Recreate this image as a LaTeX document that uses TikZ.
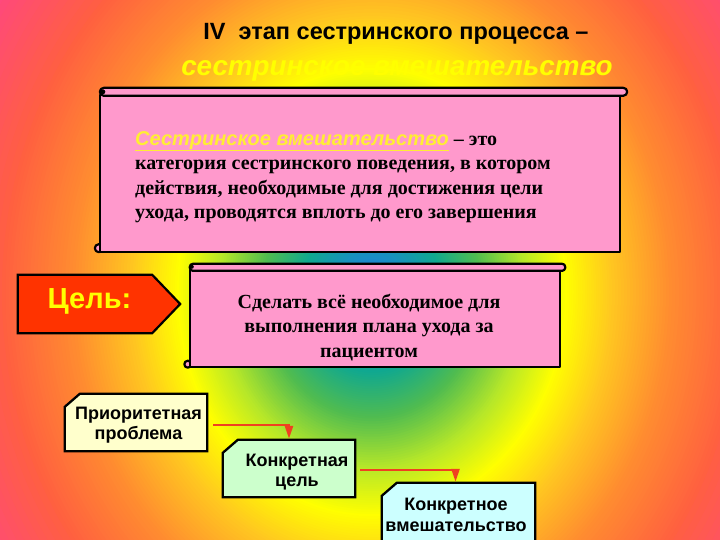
\documentclass[tikz,border=0pt]{standalone}
\usepackage{fontspec}
\setmainfont{Liberation Serif}
\newfontfamily\arialf{Liberation Sans}
\usetikzlibrary{arrows.meta}
\pgfdeclarelayer{bglayer}
\pgfdeclarelayer{shapelayer}
\pgfsetlayers{bglayer,shapelayer,main}
\definecolor{g0}{HTML}{2860E8}
\definecolor{g1}{HTML}{1A8CC8}
\definecolor{g2}{HTML}{10A890}
\definecolor{g3}{HTML}{50BC50}
\definecolor{g4}{HTML}{B8E828}
\definecolor{g5}{HTML}{FFFF00}
\definecolor{g6}{HTML}{FFC820}
\definecolor{g7}{HTML}{FF8C30}
\definecolor{g8}{HTML}{FF6040}
\definecolor{g9}{HTML}{FF3C9C}
\definecolor{pinkbox}{HTML}{FF99CC}
\definecolor{goalred}{HTML}{FF3300}
\definecolor{ylw}{HTML}{FFFF00}
\definecolor{ylwtxt}{HTML}{FFEE33}
\definecolor{boxA}{HTML}{FFFFCC}
\definecolor{boxB}{HTML}{CCFFCC}
\definecolor{boxC}{HTML}{CCFFFF}
\definecolor{arr}{HTML}{F04020}
\tikzset{
  shapeline/.style={draw=black, line width=2.2pt, line join=round},
  scrollbody/.style={shapeline, fill=pinkbox},
  snipbox/.style={draw=black, line width=2.3pt, line join=miter},
  sanstext/.style={font=\arialf\bfseries\fontsize{18}{20.5}\selectfont, align=center, inner sep=0pt},
  serifbold/.style={font=\bfseries\fontsize{20}{24.5}\selectfont, inner sep=0pt},
  conn/.style={draw=arr, line width=2.4pt, -{Triangle[width=8pt,length=13pt]}, shorten >=1pt}
}
\begin{document}
\begin{tikzpicture}[x=1pt,y=-1pt]
\useasboundingbox (0,0) rectangle (720,540);
\coordinate (bgc) at (372,292);
% background gradient
\begin{pgfonlayer}{bglayer}
\begin{scope}
\clip (0,0) rectangle (720,540);
\fill[g9] (0,0) rectangle (720,540);
\foreach \ra/\rb/\ca/\cb in {500/370/g9/g8, 370/300/g8/g7, 300/240/g7/g6, 240/195/g6/g5, 195/155/g5/g4, 155/110/g4/g3, 110/70/g3/g2, 70/30/g2/g1, 30/0/g1/g0}{
  \foreach \i in {0,...,19}{
    \pgfmathsetmacro\rr{\ra-(\ra-\rb)*\i/20}
    \pgfmathsetmacro\ry{1.15*\rr}
    \pgfmathtruncatemacro\pp{100*\i/20}
    \fill[\cb!\pp!\ca] (bgc) ellipse[x radius=\rr pt, y radius=\ry pt];
  }
}
\end{scope}
\end{pgfonlayer}

% title
\node[font=\arialf\bfseries\fontsize{23.5}{27}\selectfont, inner sep=0pt] (title1) at (396,34) {IV\ \ этап сестринского процесса –};
\node[font=\arialf\bfseries\itshape\fontsize{27.8}{32}\selectfont, text=ylw, inner sep=0pt] (title2) at (397,71) {сестринское вмешательство};

% scroll 1
\node[inner sep=0pt, minimum width=520pt, minimum height=159pt] (s1) at (360,172.5) {};
\node[serifbold, anchor=west, align=left] (t1) at (135,177)
  {{\arialf\itshape\color{ylwtxt}\underline{Сестринское вмешательство}} – это\\
   категория сестринского поведения, в котором\\
   действия, необходимые для достижения цели\\
   ухода, проводятся вплоть до его завершения};

% scroll 2
\node[inner sep=0pt, minimum width=370pt, minimum height=99pt] (s2) at (375,317.5) {};
\node[serifbold, align=center] (t2) at (369,327.5)
  {Сделать всё необходимое для\\выполнения плана ухода за\\пациентом};

% goal pentagon
\node[inner sep=0pt, minimum width=162pt, minimum height=58pt] (cel) at (99,304) {};
\node[font=\arialf\bfseries\fontsize{29}{32}\selectfont, text=ylw, inner sep=0pt] (celt) at (89.5,301) {Цель:};

% bottom boxes
\node[inner sep=0pt, minimum width=142pt, minimum height=57pt] (bA) at (136,422.5) {};
\node[sanstext] (tA) at (138.5,425) {Приоритетная\\проблема};
\node[inner sep=0pt, minimum width=132pt, minimum height=57pt] (bB) at (289,468.5) {};
\node[sanstext] (tB) at (297,472) {Конкретная\\цель};
\node[inner sep=0pt, minimum width=153pt, minimum height=62pt] (bC) at (458.5,514) {};
\node[sanstext] (tC) at (456,515) {Конкретное\\вмешательство};

\begin{pgfonlayer}{shapelayer}
% scroll 1 shapes
\filldraw[shapeline, fill=pinkbox] ([xshift=-1pt,yshift=4pt]s1.south west) circle[radius=4pt];
\draw[scrollbody] ([yshift=-2pt]s1.north west) rectangle (s1.south east);
\draw[scrollbody, rounded corners=4pt] ([yshift=5pt]s1.north west) rectangle ([xshift=7pt,yshift=-3pt]s1.north east);
\fill[black] ([xshift=3pt,yshift=1pt]s1.north west) circle[radius=2.5pt];
% scroll 2 shapes
\filldraw[shapeline, fill=pinkbox] ([xshift=-2pt,yshift=3pt]s2.south west) circle[radius=3.5pt];
\draw[scrollbody] ([yshift=-2pt]s2.north west) rectangle (s2.south east);
\draw[scrollbody, rounded corners=3pt] ([yshift=4pt]s2.north west) rectangle ([xshift=5pt,yshift=-3pt]s2.north east);
\fill[black] ([xshift=2pt,yshift=1pt]s2.north west) circle[radius=2pt];
% goal
\draw[shapeline, fill=goalred, line join=miter] (cel.north west) -- ([xshift=-28pt]cel.north east) -- (cel.east) -- ([xshift=-28pt]cel.south east) -- (cel.south west) -- cycle;
% snip boxes
\draw[snipbox, fill=boxA] ([xshift=15pt]bA.north west) -- (bA.north east) -- (bA.south east) -- (bA.south west) -- ([yshift=-13pt]bA.north west) -- cycle;
\draw[snipbox, fill=boxB] ([xshift=15pt]bB.north west) -- (bB.north east) -- (bB.south east) -- (bB.south west) -- ([yshift=-13pt]bB.north west) -- cycle;
\draw[snipbox, fill=boxC] ([xshift=15pt]bC.north west) -- (bC.north east) -- (bC.south east) -- (bC.south west) -- ([yshift=-13pt]bC.north west) -- cycle;
\end{pgfonlayer}

% connectors
\draw[conn] ([xshift=6pt,yshift=-2.5pt]bA.east) -| (bB.north);
\draw[conn] ([xshift=5pt,yshift=-1.5pt]bB.east) -| ([xshift=-3pt]bC.north);
\end{tikzpicture}
\end{document}
